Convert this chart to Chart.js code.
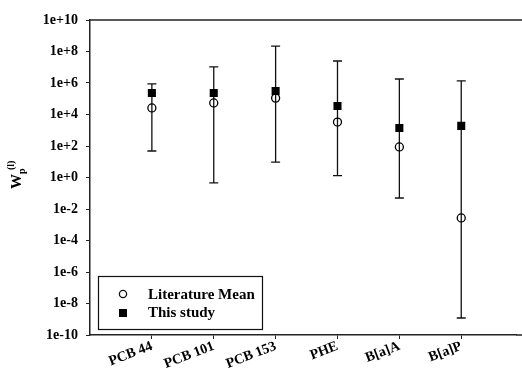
<!DOCTYPE html>
<html lang="en">
<head>
    <meta charset="UTF-8">
    <title>Wp comparison</title>
    <script src="https://cdn.jsdelivr.net/npm/chart.js"></script>
    <style>
        html, body { margin: 0; padding: 0; background: #fff; }
        #wrap { width: 522px; height: 372px; }
    </style>
</head>
<body>
    <div id="wrap"><canvas id="wpChart" width="522" height="372"></canvas></div>

    <script>
        // data
        var categories = ['PCB 44', 'PCB 101', 'PCB 153', 'PHE', 'B[a]A', 'B[a]P'];
        var literatureMean = [2.6e4, 5.4e4, 1.1e5, 3.3e3, 87, 2.7e-3];
        var thisStudy = [2.3e5, 2.3e5, 3.1e5, 3.5e4, 1.4e3, 1.9e3];
        var rangeLow = [48, 0.45, 9.5, 1.3, 0.05, 1.2e-9];
        var rangeHigh = [8.7e5, 1.05e7, 2.2e8, 2.5e7, 1.8e6, 1.35e6];
        var yTicks = [1e-10, 1e-8, 1e-6, 1e-4, 1e-2, 1, 1e2, 1e4, 1e6, 1e8, 1e10];

        var serif = '"Liberation Serif", "Times New Roman", serif';

        function pts(arr) {
            return arr.map(function (v, i) { return { x: i + 1, y: v }; });
        }

        // error bars (literature range), top frame line, legend box and y title
        var extras = {
            id: 'extras',
            beforeDatasetsDraw: function (chart) {
                var ctx = chart.ctx, xs = chart.scales.x, ys = chart.scales.y;
                ctx.save();
                ctx.strokeStyle = '#111';
                ctx.lineWidth = 1.3;
                for (var i = 0; i < categories.length; i++) {
                    var x = xs.getPixelForValue(i + 1);
                    var y1 = ys.getPixelForValue(rangeLow[i]);
                    var y2 = ys.getPixelForValue(rangeHigh[i]);
                    ctx.beginPath();
                    ctx.moveTo(x, y1); ctx.lineTo(x, y2);
                    ctx.moveTo(x - 4.5, y1); ctx.lineTo(x + 4.5, y1);
                    ctx.moveTo(x - 4.5, y2); ctx.lineTo(x + 4.5, y2);
                    ctx.stroke();
                }
                ctx.restore();
            },
            afterDraw: function (chart) {
                var ctx = chart.ctx, a = chart.chartArea;
                ctx.save();
                // top line
                ctx.strokeStyle = '#222';
                ctx.lineWidth = 1.5;
                ctx.beginPath();
                ctx.moveTo(a.left, a.top); ctx.lineTo(522, a.top);
                ctx.stroke();
                ctx.beginPath();
                ctx.moveTo(a.right, a.bottom); ctx.lineTo(522, a.bottom);
                ctx.stroke();

                // legend
                ctx.lineWidth = 1.2;
                ctx.strokeStyle = '#111';
                ctx.strokeRect(98.5, 276.5, 164, 53);
                ctx.lineWidth = 1.3;
                ctx.beginPath();
                ctx.arc(123, 294, 3.6, 0, Math.PI * 2);
                ctx.stroke();
                ctx.fillStyle = '#000';
                ctx.fillRect(119, 309, 8, 8);
                ctx.font = 'bold 15px ' + serif;
                ctx.textBaseline = 'middle';
                ctx.fillText(chart.data.datasets[0].label, 148, 295);
                ctx.fillText(chart.data.datasets[1].label, 148, 313);

                // y title: W_p^(l)
                ctx.translate(17, 189);
                ctx.rotate(-Math.PI / 2);
                ctx.textAlign = 'left';
                ctx.font = 'bold 15px ' + serif;
                ctx.fillText('W', 0, 0);
                var w = ctx.measureText('W').width;
                ctx.font = 'bold 10px ' + serif;
                ctx.fillText('p', w, 5);
                ctx.fillText('(l)', w + 4, -6);
                ctx.restore();
            }
        };

        var ctx = document.getElementById('wpChart').getContext('2d');
        var wpChart = new Chart(ctx, {
            type: 'scatter',
            data: {
                datasets: [{
                    label: 'Literature Mean',
                    data: pts(literatureMean),
                    pointStyle: 'circle',
                    pointRadius: 4,
                    pointBorderWidth: 1.3,
                    borderColor: '#000',
                    backgroundColor: 'rgba(0,0,0,0)'
                }, {
                    label: 'This study',
                    data: pts(thisStudy),
                    pointStyle: 'rect',
                    pointRadius: 5.7,
                    pointBorderWidth: 0,
                    borderColor: '#000',
                    backgroundColor: '#000'
                }]
            },
            options: {
                responsive: false,
                animation: false,
                layout: { padding: { top: 20, right: 0, left: 0, bottom: 0 } },
                plugins: { legend: { display: false }, tooltip: { enabled: false } },
                scales: {
                    x: {
                        type: 'linear',
                        min: 0,
                        max: 6.89,
                        afterBuildTicks: function (s) {
                            s.ticks = categories.map(function (c, i) { return { value: i + 1 }; });
                        },
                        afterFit: function (s) { s.height = 37; },
                        grid: { drawOnChartArea: false, drawTicks: true, tickLength: 4, color: '#222' },
                        border: { display: true, color: '#222', width: 1.5 },
                        ticks: {
                            autoSkip: false,
                            minRotation: 21,
                            maxRotation: 21,
                            padding: -1,
                            color: '#000',
                            font: { family: serif, size: 14, weight: 'bold' },
                            callback: function (v) { return categories[v - 1] || ''; }
                        }
                    },
                    y: {
                        type: 'logarithmic',
                        min: 1e-10,
                        max: 1e10,
                        afterBuildTicks: function (s) {
                            s.ticks = yTicks.map(function (v) { return { value: v }; });
                        },
                        afterFit: function (s) { s.width = 90; },
                        grid: { drawOnChartArea: false, drawTicks: true, tickLength: 4, color: '#222' },
                        border: { display: true, color: '#222', width: 1.5 },
                        ticks: {
                            autoSkip: false,
                            padding: 8,
                            color: '#000',
                            font: { family: serif, size: 14, weight: 'bold' },
                            callback: function (v) {
                                var e = Math.round(Math.log10(v));
                                return '1e' + (e >= 0 ? '+' : '') + e;
                            }
                        }
                    }
                }
            },
            plugins: [extras]
        });
    </script>
</body>
</html>
